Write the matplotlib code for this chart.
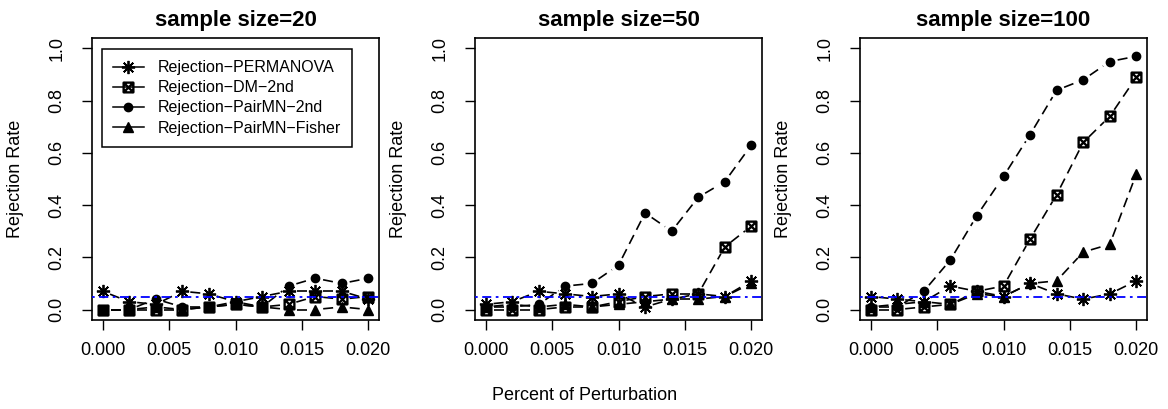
import numpy as np
import matplotlib
matplotlib.use('Agg')
import matplotlib.pyplot as plt
from matplotlib.path import Path
from matplotlib.lines import Line2D

plt.rcParams['font.family'] = ['Liberation Sans', 'DejaVu Sans']

# perturbation levels (x axis)
perturb = [0.000, 0.002, 0.004, 0.006, 0.008, 0.010, 0.012, 0.014, 0.016, 0.018, 0.020]

sample_sizes = [20, 50, 100]
series_names = ['Rejection\u2212PERMANOVA', 'Rejection\u2212DM\u22122nd',
                'Rejection\u2212PairMN\u22122nd', 'Rejection\u2212PairMN\u2212Fisher']

# sample size = 20
permanova_20 = [0.07, 0.03, 0.02, 0.07, 0.06, 0.03, 0.05, 0.07, 0.07, 0.07, 0.04]
dm_20 = [0.00, 0.00, 0.00, 0.00, 0.01, 0.02, 0.01, 0.02, 0.05, 0.04, 0.05]
pairmn_20 = [0.00, 0.00, 0.04, 0.01, 0.01, 0.03, 0.01, 0.09, 0.12, 0.10, 0.12]
fisher_20 = [0.00, 0.00, 0.01, 0.00, 0.01, 0.02, 0.01, 0.00, 0.00, 0.01, 0.00]

# sample size = 50
permanova_50 = [0.02, 0.03, 0.07, 0.06, 0.05, 0.06, 0.01, 0.04, 0.06, 0.05, 0.11]
dm_50 = [0.00, 0.00, 0.00, 0.01, 0.01, 0.03, 0.05, 0.06, 0.06, 0.24, 0.32]
pairmn_50 = [0.01, 0.01, 0.02, 0.09, 0.10, 0.17, 0.37, 0.30, 0.43, 0.49, 0.63]
fisher_50 = [0.01, 0.02, 0.01, 0.02, 0.01, 0.02, 0.03, 0.04, 0.04, 0.05, 0.10]

# sample size = 100
permanova_100 = [0.05, 0.04, 0.03, 0.09, 0.07, 0.05, 0.10, 0.06, 0.04, 0.06, 0.11]
dm_100 = [0.00, 0.00, 0.01, 0.02, 0.07, 0.09, 0.27, 0.44, 0.64, 0.74, 0.89]
pairmn_100 = [0.01, 0.01, 0.07, 0.19, 0.36, 0.51, 0.67, 0.84, 0.88, 0.95, 0.97]
fisher_100 = [0.01, 0.02, 0.03, 0.02, 0.06, 0.05, 0.10, 0.11, 0.22, 0.25, 0.52]

alpha_level = 0.05

panels = [
    (permanova_20, dm_20, pairmn_20, fisher_20),
    (permanova_50, dm_50, pairmn_50, fisher_50),
    (permanova_100, dm_100, pairmn_100, fisher_100),
]

# R style markers: pch 8 (asterisk), 7 (square with x), 16, 17
box_x = Path([(-1, -1), (1, -1), (1, 1), (-1, 1), (-1, -1),
              (-1, -1), (1, 1), (-1, 1), (1, -1)],
             [Path.MOVETO, Path.LINETO, Path.LINETO, Path.LINETO, Path.CLOSEPOLY,
              Path.MOVETO, Path.LINETO, Path.MOVETO, Path.LINETO])
markers = [
    dict(marker=(8, 2, 0), markersize=9.5, markeredgewidth=1.3),
    dict(marker=box_x, markersize=7, markeredgewidth=1.7, markerfacecolor='none'),
    dict(marker='o', markersize=6),
    dict(marker='^', markersize=6.5),
]

GAP = 8  # pixels left free around each point, like R type="b"


def gapped_line(ax, x, y):
    # draw the connecting dashed segments with a gap around each point
    pts = ax.transData.transform(np.column_stack([x, y]))
    inv = ax.transData.inverted()
    for p0, p1 in zip(pts[:-1], pts[1:]):
        d = p1 - p0
        L = np.hypot(*d)
        if L <= 2 * GAP:
            continue
        u = d / L
        seg = inv.transform(np.array([p0 + u * GAP, p1 - u * GAP]))
        ax.plot(seg[:, 0], seg[:, 1], color='black', lw=1.2,
                linestyle=(0, (6, 3.5)), solid_capstyle='butt',
                dash_capstyle='butt')


fig = plt.figure(figsize=(11.68, 4.09), dpi=100)
lefts = [92, 475, 860]
W, H = 1168, 409
for k, (lp, series) in enumerate(zip(lefts, panels)):
    ax = fig.add_axes([lp / W, (H - 320) / H, 287 / W, 282 / H])
    ax.set_xlim(-0.0008, 0.0208)
    ax.set_ylim(-0.04, 1.04)
    for vals, mk in zip(series, markers):
        gapped_line(ax, perturb, vals)
        ax.plot(perturb, vals, linestyle='none', color='black',
                markeredgecolor='black', **mk)
    ax.axhline(alpha_level, color='blue', lw=1.3, linestyle=(0, (1.5, 2.5, 5, 2.5)),
               zorder=5)

    ax.set_xticks([0.000, 0.005, 0.010, 0.015, 0.020])
    ax.set_xticklabels(['0.000', '0.005', '0.010', '0.015', '0.020'])
    ax.set_yticks([0.0, 0.2, 0.4, 0.6, 0.8, 1.0])
    ax.set_yticklabels(['0.0', '0.2', '0.4', '0.6', '0.8', '1.0'],
                       rotation=90, va='center')
    ax.tick_params(direction='out', length=7, width=1, labelsize=13)
    ax.tick_params(axis='x', pad=9)
    ax.tick_params(axis='y', pad=12)
    for s in ax.spines.values():
        s.set_linewidth(1.2)
    ax.set_ylabel('Rejection Rate', fontsize=13, labelpad=18)
    ax.set_title('sample size=%d' % sample_sizes[k], fontsize=16,
                 fontweight='bold', pad=9)

    if k == 0:
        handles = [Line2D([], [], color='black', lw=1.1, **mk) for mk in markers]
        leg = ax.legend(handles, series_names, loc='upper left', fontsize=11.5,
                        fancybox=False, framealpha=1, edgecolor='black',
                        handlelength=1.9, handletextpad=0.9, borderpad=0.7,
                        labelspacing=0.32, borderaxespad=0,
                        bbox_to_anchor=(0.035, 0.961))
        leg.get_frame().set_linewidth(1.1)

fig.text(585 / W, 1 - 395 / H, 'Percent of Perturbation', ha='center', va='center',
         fontsize=13)

fig.savefig('out.png', dpi=100)
